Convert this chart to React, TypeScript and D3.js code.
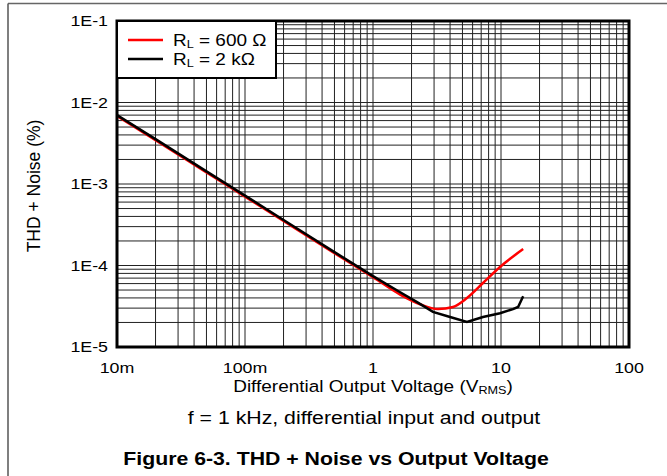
import * as d3 from "d3";

// THD+N vs differential output voltage, two load curves on log-log grid.

const X_TICKS = [0.01, 0.1, 1, 10, 100];
const X_LABELS = ["10m", "100m", "1", "10", "100"];
const Y_TICKS = [1e-1, 1e-2, 1e-3, 1e-4, 1e-5];
const Y_LABELS = ["1E-1", "1E-2", "1E-3", "1E-4", "1E-5"];

// R_L = 600 Ω
const redV = [0.01, 0.02, 0.05, 0.1, 0.2, 0.5, 1, 1.63, 2.33, 3.22, 4.22, 5.42, 7.23, 9.82, 14.9];
const redThd = [6.85e-3, 3.45e-3, 1.39e-3, 7.0e-4, 3.52e-4, 1.42e-4, 7.2e-5, 4.4e-5, 3.35e-5, 2.92e-5, 3.1e-5, 3.99e-5, 6.1e-5, 9.6e-5, 1.59e-4];

// R_L = 2 kΩ
const blackV = [0.01, 0.02, 0.05, 0.1, 0.2, 0.5, 1, 1.63, 2.21, 2.94, 4.0, 5.42, 7.23, 9.82, 12.4, 13.6, 14.9];
const blackThd = [7.0e-3, 3.55e-3, 1.43e-3, 7.2e-4, 3.62e-4, 1.46e-4, 7.4e-5, 4.7e-5, 3.55e-5, 2.7e-5, 2.33e-5, 2.03e-5, 2.33e-5, 2.6e-5, 2.92e-5, 3.1e-5, 4.2e-5];

const W = 667, H = 476;
const M = { left: 117, top: 21, right: 629, bottom: 347 };
const FONT = "'Liberation Sans', Arial, Helvetica, sans-serif";
const SX = 1.15; // glyphs in the reference are a bit wide

function T({ x, y, size, anchor = "middle", bold = false, children }:
  { x: number; y: number; size: number; anchor?: string; bold?: boolean; children: any }) {
  return (
    <g transform={`translate(${x},${y}) scale(${SX},1)`}>
      <text textAnchor={anchor} dominantBaseline="central" fontSize={size}
            fontWeight={bold ? "bold" : "normal"} fontFamily={FONT} fill="#000">
        {children}
      </text>
    </g>
  );
}

export default function App() {
  const x = d3.scaleLog().domain([0.01, 100]).range([M.left, M.right]);
  const y = d3.scaleLog().domain([1e-5, 1e-1]).range([M.bottom, M.top]);

  const gridX: number[] = [];
  for (let e = -2; e < 2; e++) for (let m = 1; m <= 9; m++) gridX.push(m * Math.pow(10, e));
  const gridY: number[] = [];
  for (let e = -5; e < -1; e++) for (let m = 1; m <= 9; m++) gridY.push(m * Math.pow(10, e));

  const lineRed = d3.line<number>().x((_, i) => x(redV[i])).y((d) => y(d)).curve(d3.curveMonotoneX);
  const lineBlack = d3.line<number>().x((_, i) => x(blackV[i])).y((d) => y(d));

  const legX = M.left, legY = M.top, legW = 159, legH = 57;

  return (
    <svg width={W} height={H} style={{ position: "absolute", left: 0, top: 0, background: "#fff" }}>
      {/* outer figure frame */}
      <line x1={8} y1={3.5} x2={W} y2={3.5} stroke="#666" strokeWidth={1.5} />
      <line x1={8} y1={3.5} x2={8} y2={H} stroke="#555" strokeWidth={1.5} />

      {gridX.map((v, i) => (
        <line key={"gx" + i} x1={x(v)} x2={x(v)} y1={M.top} y2={M.bottom} stroke="#222" strokeWidth={1} />
      ))}
      {gridY.map((v, i) => (
        <line key={"gy" + i} x1={M.left} x2={M.right} y1={y(v)} y2={y(v)} stroke="#222" strokeWidth={1} />
      ))}

      <path d={lineRed(redThd) ?? ""} fill="none" stroke="#ff0000" strokeWidth={2.5} />
      <path d={lineBlack(blackThd) ?? ""} fill="none" stroke="#000" strokeWidth={2.5} />

      <rect x={M.left} y={M.top} width={M.right - M.left} height={M.bottom - M.top}
            fill="none" stroke="#000" strokeWidth={3} />

      {/* legend */}
      <rect x={legX} y={legY} width={legW} height={legH} fill="#fff" stroke="#000" strokeWidth={2} />
      <line x1={128} x2={163} y1={40} y2={40} stroke="#ff0000" strokeWidth={2.5} />
      <line x1={128} x2={163} y1={59} y2={59} stroke="#000" strokeWidth={2.5} />
      <T x={173} y={40} size={16.5} anchor="start">R<tspan fontSize={11} dy={4}>L</tspan><tspan dy={-4}> = 600 Ω</tspan></T>
      <T x={173} y={59} size={16.5} anchor="start">R<tspan fontSize={11} dy={4}>L</tspan><tspan dy={-4}> = 2 kΩ</tspan></T>

      {Y_TICKS.map((v, i) => (
        <T key={"yl" + i} x={108} y={y(v)} size={15.5} anchor="end">{Y_LABELS[i]}</T>
      ))}
      {X_TICKS.map((v, i) => (
        <T key={"xl" + i} x={x(v)} y={368} size={15.5}>{X_LABELS[i]}</T>
      ))}

      <T x={373} y={386} size={16.5}>
        Differential Output Voltage (V<tspan fontSize={11} dy={4}>RMS</tspan><tspan dy={-4}>)</tspan>
      </T>
      <g transform={`translate(34,186) rotate(-90)`}>
        <text textAnchor="middle" dominantBaseline="central" fontSize={17.5} fontFamily={FONT}>
          THD + Noise (%)
        </text>
      </g>

      <T x={364} y={418} size={18.5}>f = 1 kHz, differential input and output</T>
      <T x={336} y={459} size={18.5} bold>Figure 6-3. THD + Noise vs Output Voltage</T>
    </svg>
  );
}
